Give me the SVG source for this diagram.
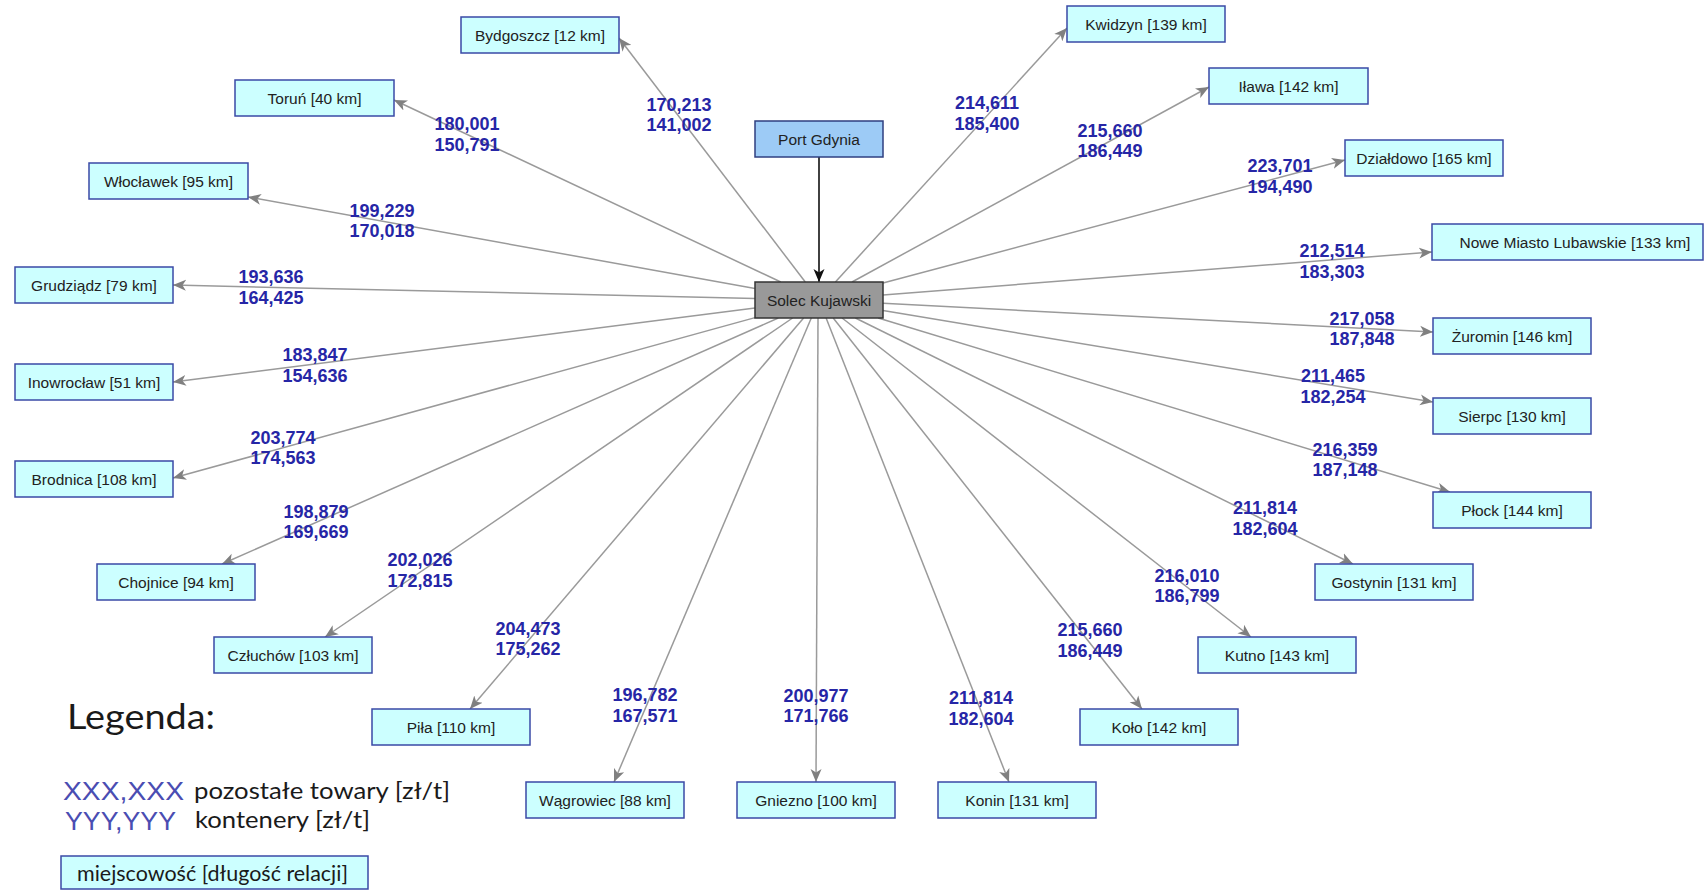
<svg xmlns="http://www.w3.org/2000/svg" width="1704" height="890" viewBox="0 0 1704 890">
  <style>
    .node rect { fill: #ccffff; stroke: #3a4aa6; stroke-width: 1.5; }
    .node text { font-family: "Liberation Sans", Arial, sans-serif; font-size: 15.5px; fill: #222222; text-anchor: middle; }
    #port rect { fill: #9dcbf6; stroke: #2f3f80; }
    #solec rect { fill: #999999; stroke: #333333; }
    .edge { stroke: #9a9a9a; stroke-width: 1.5; fill: none; marker-end: url(#arrow); }
    .edge-main { stroke: #111111; stroke-width: 1.6; fill: none; marker-end: url(#arrowBlack); }
    .lbl { font-family: "Liberation Sans", Arial, sans-serif; font-size: 18px; font-weight: bold; fill: #2626a6; text-anchor: middle; }
    .leg { font-family: Lato, "Open Sans", sans-serif; fill: #1a1a1a; }
    .leg-blue { font-family: "Liberation Sans", Arial, sans-serif; fill: #4a4db2; }
  </style>
  <defs>
    <marker id="arrow" markerUnits="userSpaceOnUse" markerWidth="14" markerHeight="12" viewBox="0 0 14 12" refX="13" refY="6" orient="auto">
      <path d="M0,0.5 L13,6 L0,11.5 L3.5,6 z" fill="#808080"/>
    </marker>
    <marker id="arrowBlack" markerUnits="userSpaceOnUse" markerWidth="14" markerHeight="12" viewBox="0 0 14 12" refX="13" refY="6" orient="auto">
      <path d="M0,0.5 L13,6 L0,11.5 L3.5,6 z" fill="#111111"/>
    </marker>
  </defs>

  <rect width="1704" height="890" fill="#ffffff"/>

  <!-- connectors from the hub to each destination -->
  <g id="connectors">
    <line class="edge-main" x1="819" y1="157" x2="819" y2="282"/>
    <line class="edge" x1="805.3" y1="282" x2="619" y2="38"/>
    <line class="edge" x1="780.8" y1="282" x2="394" y2="100"/>
    <line class="edge" x1="755" y1="288.5" x2="248" y2="197"/>
    <line class="edge" x1="755" y1="298.5" x2="173" y2="285"/>
    <line class="edge" x1="755" y1="308.1" x2="173" y2="382"/>
    <line class="edge" x1="755" y1="317.6" x2="173" y2="478"/>
    <line class="edge" x1="778.3" y1="318" x2="222" y2="564"/>
    <line class="edge" x1="792.6" y1="318" x2="325" y2="637"/>
    <line class="edge" x1="803.6" y1="318" x2="470" y2="709"/>
    <line class="edge" x1="811.3" y1="318" x2="614" y2="782"/>
    <line class="edge" x1="818" y1="318" x2="816" y2="782"/>
    <line class="edge" x1="826.1" y1="318" x2="1009" y2="782"/>
    <line class="edge" x1="833.2" y1="318" x2="1142" y2="709"/>
    <line class="edge" x1="842.1" y1="318" x2="1251" y2="637"/>
    <line class="edge" x1="855.4" y1="318" x2="1353" y2="564"/>
    <line class="edge" x1="878.2" y1="318" x2="1450" y2="492"/>
    <line class="edge" x1="883" y1="310.6" x2="1433" y2="402"/>
    <line class="edge" x1="883" y1="303.3" x2="1433" y2="332"/>
    <line class="edge" x1="883" y1="295" x2="1432" y2="252"/>
    <line class="edge" x1="883" y1="283" x2="1345" y2="160"/>
    <line class="edge" x1="852" y1="282" x2="1209" y2="87"/>
    <line class="edge" x1="835.4" y1="282" x2="1067" y2="28"/>
  </g>

  <!-- rate labels: upper line other goods, lower line containers -->
  <g id="edge-labels">
    <text class="lbl" x="679" y="111">170,213</text><text class="lbl" x="679" y="131">141,002</text>
    <text class="lbl" x="467" y="130">180,001</text><text class="lbl" x="467" y="151">150,791</text>
    <text class="lbl" x="382" y="217">199,229</text><text class="lbl" x="382" y="237">170,018</text>
    <text class="lbl" x="271" y="283">193,636</text><text class="lbl" x="271" y="304">164,425</text>
    <text class="lbl" x="315" y="361">183,847</text><text class="lbl" x="315" y="382">154,636</text>
    <text class="lbl" x="283" y="444">203,774</text><text class="lbl" x="283" y="464">174,563</text>
    <text class="lbl" x="316" y="518">198,879</text><text class="lbl" x="316" y="538">169,669</text>
    <text class="lbl" x="420" y="566">202,026</text><text class="lbl" x="420" y="587">172,815</text>
    <text class="lbl" x="528" y="635">204,473</text><text class="lbl" x="528" y="655">175,262</text>
    <text class="lbl" x="645" y="701">196,782</text><text class="lbl" x="645" y="722">167,571</text>
    <text class="lbl" x="816" y="702">200,977</text><text class="lbl" x="816" y="722">171,766</text>
    <text class="lbl" x="981" y="704">211,814</text><text class="lbl" x="981" y="725">182,604</text>
    <text class="lbl" x="1090" y="636">215,660</text><text class="lbl" x="1090" y="657">186,449</text>
    <text class="lbl" x="1187" y="582">216,010</text><text class="lbl" x="1187" y="602">186,799</text>
    <text class="lbl" x="1265" y="514">211,814</text><text class="lbl" x="1265" y="535">182,604</text>
    <text class="lbl" x="1345" y="456">216,359</text><text class="lbl" x="1345" y="476">187,148</text>
    <text class="lbl" x="1333" y="382">211,465</text><text class="lbl" x="1333" y="403">182,254</text>
    <text class="lbl" x="1362" y="325">217,058</text><text class="lbl" x="1362" y="345">187,848</text>
    <text class="lbl" x="1332" y="257">212,514</text><text class="lbl" x="1332" y="278">183,303</text>
    <text class="lbl" x="1280" y="172">223,701</text><text class="lbl" x="1280" y="193">194,490</text>
    <text class="lbl" x="1110" y="137">215,660</text><text class="lbl" x="1110" y="157">186,449</text>
    <text class="lbl" x="987" y="109">214,611</text><text class="lbl" x="987" y="130">185,400</text>
  </g>

  <!-- nodes -->
  <g id="port" class="node"><rect x="755" y="121" width="128" height="36"/><text x="819" y="144.5">Port Gdynia</text></g>
  <g id="solec" class="node"><rect x="755" y="282" width="128" height="36"/><text x="819" y="305.5">Solec Kujawski</text></g>
  <g id="bydgoszcz" class="node"><rect x="461" y="17" width="158" height="36"/><text x="540" y="40.5">Bydgoszcz [12 km]</text></g>
  <g id="torun" class="node"><rect x="235" y="80" width="159" height="36"/><text x="314.5" y="103.5">Toruń [40 km]</text></g>
  <g id="wloclawek" class="node"><rect x="89" y="163" width="159" height="36"/><text x="168.5" y="186.5">Włocławek [95 km]</text></g>
  <g id="grudziadz" class="node"><rect x="15" y="267" width="158" height="36"/><text x="94" y="290.5">Grudziądz [79 km]</text></g>
  <g id="inowroclaw" class="node"><rect x="15" y="364" width="158" height="36"/><text x="94" y="387.5">Inowrocław [51 km]</text></g>
  <g id="brodnica" class="node"><rect x="15" y="461" width="158" height="36"/><text x="94" y="484.5">Brodnica [108 km]</text></g>
  <g id="chojnice" class="node"><rect x="97" y="564" width="158" height="36"/><text x="176" y="587.5">Chojnice [94 km]</text></g>
  <g id="czluchow" class="node"><rect x="214" y="637" width="158" height="36"/><text x="293" y="660.5">Człuchów [103 km]</text></g>
  <g id="pila" class="node"><rect x="372" y="709" width="158" height="36"/><text x="451" y="732.5">Piła [110 km]</text></g>
  <g id="wagrowiec" class="node"><rect x="526" y="782" width="158" height="36"/><text x="605" y="805.5">Wągrowiec [88 km]</text></g>
  <g id="gniezno" class="node"><rect x="737" y="782" width="158" height="36"/><text x="816" y="805.5">Gniezno [100 km]</text></g>
  <g id="konin" class="node"><rect x="938" y="782" width="158" height="36"/><text x="1017" y="805.5">Konin [131 km]</text></g>
  <g id="kolo" class="node"><rect x="1080" y="709" width="158" height="36"/><text x="1159" y="732.5">Koło [142 km]</text></g>
  <g id="kutno" class="node"><rect x="1198" y="637" width="158" height="36"/><text x="1277" y="660.5">Kutno [143 km]</text></g>
  <g id="gostynin" class="node"><rect x="1315" y="564" width="158" height="36"/><text x="1394" y="587.5">Gostynin [131 km]</text></g>
  <g id="plock" class="node"><rect x="1433" y="492" width="158" height="36"/><text x="1512" y="515.5">Płock [144 km]</text></g>
  <g id="sierpc" class="node"><rect x="1433" y="398" width="158" height="36"/><text x="1512" y="421.5">Sierpc [130 km]</text></g>
  <g id="zuromin" class="node"><rect x="1433" y="318" width="158" height="36"/><text x="1512" y="341.5">Żuromin [146 km]</text></g>
  <g id="nowe-miasto" class="node"><rect x="1432" y="224" width="271" height="36"/><text x="1575" y="247.5">Nowe Miasto Lubawskie [133 km]</text></g>
  <g id="dzialdowo" class="node"><rect x="1345" y="140" width="158" height="36"/><text x="1424" y="163.5">Działdowo [165 km]</text></g>
  <g id="ilawa" class="node"><rect x="1209" y="68" width="159" height="36"/><text x="1288.5" y="91.5">Iława [142 km]</text></g>
  <g id="kwidzyn" class="node"><rect x="1067" y="6" width="158" height="36"/><text x="1146" y="29.5">Kwidzyn [139 km]</text></g>

  <!-- legend -->
  <g id="legend">
    <text class="leg" x="67" y="729" font-size="34" textLength="148" lengthAdjust="spacingAndGlyphs">Legenda:</text>
    <text class="leg-blue" x="63" y="800" font-size="26" textLength="121" lengthAdjust="spacingAndGlyphs">XXX,XXX</text>
    <text class="leg" x="194" y="799" font-size="23" textLength="256" lengthAdjust="spacingAndGlyphs">pozostałe towary [zł/t]</text>
    <text class="leg-blue" x="65" y="830" font-size="26" textLength="111" lengthAdjust="spacingAndGlyphs">YYY,YYY</text>
    <text class="leg" x="195" y="828" font-size="23" textLength="175" lengthAdjust="spacingAndGlyphs">kontenery [zł/t]</text>
    <rect x="61" y="856" width="307" height="33" fill="#ccffff" stroke="#3a4aa6" stroke-width="1.5"/>
    <text class="leg" x="77" y="881" font-size="22" textLength="271" lengthAdjust="spacingAndGlyphs">miejscowość [długość relacji]</text>
  </g>
</svg>
